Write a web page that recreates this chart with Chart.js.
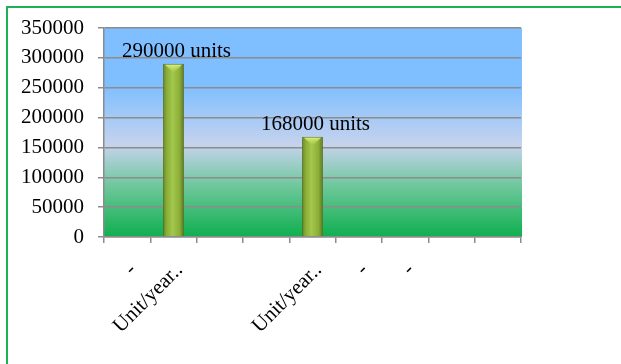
<!DOCTYPE html>
<html>
<head>
<meta charset="utf-8">
<script src="https://cdn.jsdelivr.net/npm/chart.js@4"></script>
<style>
  body { margin: 0; background: #fff; overflow: hidden; }
  #frame { position: absolute; left: 6px; top: 6px; width: 700px; height: 420px; border: 2px solid #1fb157; }
  #graph { position: absolute; left: 0; top: 0; }
</style>
</head>
<body>
<div id="frame"></div>
<canvas id="graph" width="621" height="364"></canvas>
<script>
// ============ donnees ============
const categories = ["-", "Unit/year..", "", "", "Unit/year..", "-", "-", "", ""];
const valeurs = [null, 290000, null, null, 168000, null, null, null, null];
const etiquettes = ["", "290000 units", "", "", "168000 units", "", "", "", ""];
const yTicks = [0, 50000, 100000, 150000, 200000, 250000, 300000, 350000];

const police = "'Liberation Serif', 'Times New Roman', serif";

// fond degrade de la zone du graphique
const fondPlugin = {
  id: "fond",
  beforeDraw(chart) {
    const { ctx, chartArea: a } = chart;
    const g = ctx.createLinearGradient(0, a.top, 0, a.bottom);
    g.addColorStop(0, "#80bfff");
    g.addColorStop(0.28, "#80bfff");
    g.addColorStop(0.56, "#c6d3ed");
    g.addColorStop(0.76, "#6dc79a");
    g.addColorStop(1, "#0eaf4f");
    ctx.save();
    ctx.fillStyle = g;
    ctx.fillRect(a.left, a.top, a.right - a.left + 1, a.bottom - a.top);
    ctx.restore();
  },
};

// etiquettes au dessus des barres + reflet du haut
const etiquettePlugin = {
  id: "etiquettes",
  afterDatasetsDraw(chart) {
    const ctx = chart.ctx;
    const meta = chart.getDatasetMeta(0);
    meta.data.forEach((bar, i) => {
      if (valeurs[i] == null) return;
      const w = bar.width;
      ctx.save();
      let g = ctx.createLinearGradient(0, bar.y, 0, bar.y + 9);
      g.addColorStop(0, "rgba(235,250,140,0.95)");
      g.addColorStop(1, "rgba(200,230,90,0)");
      ctx.fillStyle = g;
      ctx.beginPath();
      ctx.moveTo(bar.x - w / 2 + 2, bar.y + 1);
      ctx.lineTo(bar.x + w / 2 - 2, bar.y + 1);
      ctx.lineTo(bar.x, bar.y + 9);
      ctx.closePath();
      ctx.fill();
      ctx.fillStyle = "#000";
      ctx.font = "21px " + police;
      ctx.textAlign = "center";
      ctx.textBaseline = "alphabetic";
      ctx.fillText(etiquettes[i], bar.x + 3, bar.y - 7);
      ctx.restore();
    });
  },
};

function couleurBarre(context) {
  const chart = context.chart;
  const echelle = chart.scales && chart.scales.x;
  const x = echelle ? echelle.getPixelForValue(context.dataIndex) : NaN;
  if (!isFinite(x)) return "#94b83f";
  const g = chart.ctx.createLinearGradient(x - 10.5, 0, x + 10.5, 0);
  g.addColorStop(0, "#5f7a20");
  g.addColorStop(0.15, "#88aa35");
  g.addColorStop(0.45, "#a3c84c");
  g.addColorStop(0.8, "#8bad38");
  g.addColorStop(1, "#55701c");
  return g;
}

const graph = document.getElementById("graph").getContext("2d");
const chart = new Chart(graph, {
  type: "bar",
  data: {
    labels: categories,
    datasets: [
      {
        label: "Unit/year",
        data: valeurs,
        backgroundColor: couleurBarre,
        borderColor: "#5a721f",
        borderWidth: 1,
        barPercentage: 0.9,
        categoryPercentage: 0.5,
      },
    ],
  },
  options: {
    responsive: false,
    animation: false,
    layout: { padding: { top: 28, right: 100, left: 0, bottom: 0 } },
    plugins: {
      legend: { display: false },
      tooltip: { enabled: false },
    },
    scales: {
      x: {
        afterFit: (s) => { s.height = 127; },
        grid: {
          drawOnChartArea: false,
          color: "#8c8c8c",
          lineWidth: 1.5,
          tickLength: 6,
        },
        border: { color: "#8c8c8c", width: 1.5 },
        ticks: {
          autoSkip: false,
          minRotation: 45,
          maxRotation: 45,
          padding: 15,
          labelOffset: 6,
          color: "#000",
          font: { family: police, size: 21 },
        },
      },
      y: {
        min: 0,
        max: 350000,
        afterFit: (s) => { s.width = 104; },
        afterBuildTicks: (s) => { s.ticks = yTicks.map((v) => ({ value: v })); },
        grid: { color: "#8c8c8c", lineWidth: 1.5, tickLength: 6 },
        border: { color: "#8c8c8c", width: 1.5 },
        ticks: {
          padding: 14,
          color: "#000",
          font: { family: police, size: 21 },
          callback: (v) => String(v),
        },
      },
    },
  },
  plugins: [fondPlugin, etiquettePlugin],
});
</script>
</body>
</html>
